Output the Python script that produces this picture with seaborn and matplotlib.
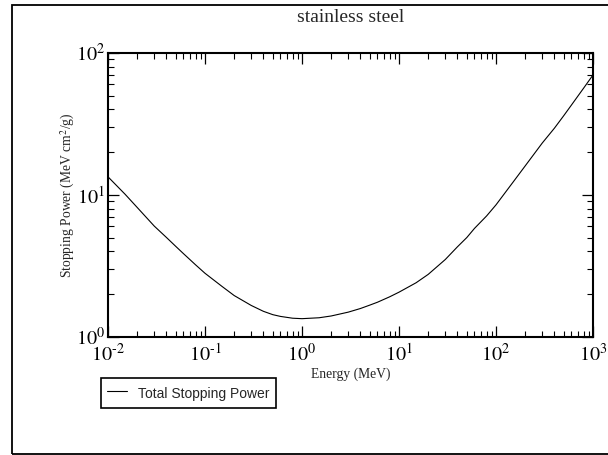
import numpy as np
import pandas as pd
import matplotlib
matplotlib.use("Agg")
import matplotlib.pyplot as plt
from matplotlib.patches import Rectangle
from matplotlib.ticker import LogLocator, NullFormatter, FuncFormatter
import seaborn as sns

# total stopping power of electrons in stainless steel
energy_mev = [0.01, 0.015, 0.02, 0.03, 0.04, 0.05, 0.06, 0.08, 0.1, 0.15, 0.2, 0.3,
              0.4, 0.5, 0.6, 0.8, 1.0, 1.5, 2.0, 3.0, 4.0, 5.0, 6.0, 8.0, 10.0,
              15.0, 20.0, 30.0, 40.0, 50.0, 60.0, 80.0, 100.0, 150.0, 200.0,
              300.0, 400.0, 500.0, 600.0, 800.0, 1000.0]
stopping_power = [13.4, 10.1, 8.15, 6.02, 5.01, 4.33, 3.85, 3.21, 2.80, 2.26, 1.95, 1.66,
                  1.51, 1.43, 1.39, 1.35, 1.34, 1.36, 1.40, 1.49, 1.58, 1.67, 1.75, 1.91, 2.06,
                  2.40, 2.75, 3.50, 4.30, 5.00, 5.80, 7.10, 8.50, 12.3, 16.0,
                  23.2, 29.5, 36.2, 43.0, 56.5, 70.0]
series_name = "Total Stopping Power"
title_text = "stainless steel"
x_label = "Energy (MeV)"
y_label = "Stopping Power (MeV cm$^2$/g)"

df = pd.DataFrame({"energy": energy_mev, "power": stopping_power, "series": series_name})

sns.set_style("ticks")
plt.rcParams["font.family"] = ["Liberation Serif", "DejaVu Serif"]
plt.rcParams["mathtext.fontset"] = "stix"


def decade_label(v, pos):
    # grace-style labels with a plain hyphen for negative exponents
    exp = int(round(np.log10(v)))
    if exp < 0:
        return r"$10^{\text{-%d}}$" % (-exp)
    return r"$10^{%d}$" % exp


fig = plt.figure(figsize=(6.08, 4.55), dpi=100)
ax = fig.add_axes([108 / 608, 1 - 336.7 / 455, (593 - 108) / 608, (336.7 - 53) / 455])

sns.lineplot(data=df, x="energy", y="power", hue="series", palette=["black"],
             linewidth=0.8, ax=ax)

ax.set_xscale("log")
ax.set_yscale("log")
ax.set_xlim(1e-2, 1e3)
ax.set_ylim(1, 100)

ax.xaxis.set_major_locator(LogLocator(base=10, numticks=10))
ax.xaxis.set_minor_locator(LogLocator(base=10, subs=np.arange(2, 10), numticks=20))
ax.xaxis.set_major_formatter(FuncFormatter(decade_label))
ax.yaxis.set_major_formatter(FuncFormatter(decade_label))
ax.xaxis.set_minor_formatter(NullFormatter())
ax.yaxis.set_minor_formatter(NullFormatter())

ax.tick_params(which="both", direction="in", top=True, right=True, colors="black")
ax.tick_params(which="major", length=8, width=0.9, labelsize=14.5)
ax.tick_params(which="minor", length=4.5, width=0.8)
ax.tick_params(axis="x", which="major", pad=5)
ax.tick_params(axis="y", which="major", pad=2)
for s in ax.spines.values():
    s.set_linewidth(1.5)
    s.set_color("black")

ax.set_xlabel(x_label, fontsize=9.8, labelpad=1)
ax.set_ylabel(y_label, fontsize=9.8, labelpad=-1)
fig.text(351 / 608, 1 - 18 / 455, title_text, ha="center", va="center", fontsize=14)

leg = ax.legend(loc="upper left", bbox_to_anchor=(101 / 608, 1 - 378 / 455),
                bbox_transform=fig.transFigure, borderaxespad=0, frameon=True,
                fancybox=False, edgecolor="black", framealpha=1,
                handlelength=1.4, handleheight=1.6, handletextpad=0.8,
                borderpad=0.45, prop={"family": "Liberation Sans", "size": 10})
leg.get_frame().set_linewidth(1.2)
for h in leg.get_lines():
    h.set_linewidth(0.8)

fig.patches.append(Rectangle((12.3 / 608, 1 - 454 / 455), 0.99, (454 - 5) / 455,
                             transform=fig.transFigure, fill=False,
                             edgecolor="black", linewidth=1.3))

fig.savefig("out.png", dpi=100)
